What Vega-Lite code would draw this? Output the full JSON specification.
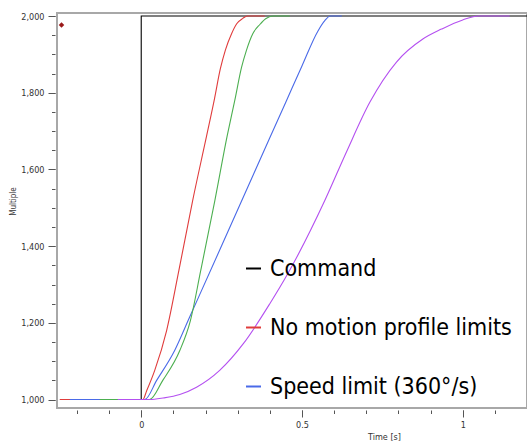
{
  "$schema": "https://vega.github.io/schema/vega-lite/v6.json",
  "autosize": "none",
  "padding": {"left": 57, "top": 13, "right": 0, "bottom": 35},
  "width": 470,
  "height": 395,
  "background": "white",
  "config": {
    "view": {"stroke": "#a8a8a8", "strokeWidth": 2},
    "font": "DejaVu Sans Condensed"
  },
  "datasets": {
    "curves": [
      {"s": "Command", "t": -0.253, "v": 1000},
      {"s": "Command", "t": 0, "v": 1000},
      {"s": "Command", "t": 0, "v": 2000},
      {"s": "Command", "t": 1.2, "v": 2000},
      {"s": "No motion profile limits", "t": -0.253, "v": 1000},
      {"s": "No motion profile limits", "t": 0.005, "v": 1000},
      {"s": "No motion profile limits", "t": 0.017, "v": 1023},
      {"s": "No motion profile limits", "t": 0.042, "v": 1076},
      {"s": "No motion profile limits", "t": 0.079, "v": 1180},
      {"s": "No motion profile limits", "t": 0.117, "v": 1336},
      {"s": "No motion profile limits", "t": 0.16, "v": 1519},
      {"s": "No motion profile limits", "t": 0.204, "v": 1690},
      {"s": "No motion profile limits", "t": 0.228, "v": 1785},
      {"s": "No motion profile limits", "t": 0.246, "v": 1862},
      {"s": "No motion profile limits", "t": 0.262, "v": 1912},
      {"s": "No motion profile limits", "t": 0.281, "v": 1954},
      {"s": "No motion profile limits", "t": 0.297, "v": 1980},
      {"s": "No motion profile limits", "t": 0.316, "v": 1994},
      {"s": "No motion profile limits", "t": 0.33, "v": 2000},
      {"s": "No motion profile limits", "t": 0.384, "v": 2000},
      {"s": "Speed limit (360°/s)", "t": -0.222, "v": 1000},
      {"s": "Speed limit (360°/s)", "t": 0.011, "v": 1000},
      {"s": "Speed limit (360°/s)", "t": 0.048, "v": 1050},
      {"s": "Speed limit (360°/s)", "t": 0.104, "v": 1128},
      {"s": "Speed limit (360°/s)", "t": 0.15, "v": 1214},
      {"s": "Speed limit (360°/s)", "t": 0.25, "v": 1401},
      {"s": "Speed limit (360°/s)", "t": 0.35, "v": 1589},
      {"s": "Speed limit (360°/s)", "t": 0.45, "v": 1776},
      {"s": "Speed limit (360°/s)", "t": 0.5, "v": 1870},
      {"s": "Speed limit (360°/s)", "t": 0.549, "v": 1960},
      {"s": "Speed limit (360°/s)", "t": 0.571, "v": 1988},
      {"s": "Speed limit (360°/s)", "t": 0.588, "v": 2000},
      {"s": "Speed limit (360°/s)", "t": 0.624, "v": 2000},
      {"s": "Acceleration limit", "t": -0.129, "v": 1000},
      {"s": "Acceleration limit", "t": 0.026, "v": 1000},
      {"s": "Acceleration limit", "t": 0.067, "v": 1050},
      {"s": "Acceleration limit", "t": 0.12, "v": 1128},
      {"s": "Acceleration limit", "t": 0.153, "v": 1206},
      {"s": "Acceleration limit", "t": 0.185, "v": 1336},
      {"s": "Acceleration limit", "t": 0.229, "v": 1519},
      {"s": "Acceleration limit", "t": 0.268, "v": 1690},
      {"s": "Acceleration limit", "t": 0.291, "v": 1780},
      {"s": "Acceleration limit", "t": 0.312, "v": 1866},
      {"s": "Acceleration limit", "t": 0.327, "v": 1910},
      {"s": "Acceleration limit", "t": 0.347, "v": 1954},
      {"s": "Acceleration limit", "t": 0.369, "v": 1978},
      {"s": "Acceleration limit", "t": 0.387, "v": 1993},
      {"s": "Acceleration limit", "t": 0.41, "v": 2000},
      {"s": "Acceleration limit", "t": 0.462, "v": 2000},
      {"s": "Speed and acceleration limit", "t": -0.073, "v": 1000},
      {"s": "Speed and acceleration limit", "t": 0.026, "v": 1000},
      {"s": "Speed and acceleration limit", "t": 0.068, "v": 1004},
      {"s": "Speed and acceleration limit", "t": 0.12, "v": 1013},
      {"s": "Speed and acceleration limit", "t": 0.172, "v": 1032},
      {"s": "Speed and acceleration limit", "t": 0.244, "v": 1076},
      {"s": "Speed and acceleration limit", "t": 0.317, "v": 1145},
      {"s": "Speed and acceleration limit", "t": 0.4, "v": 1250},
      {"s": "Speed and acceleration limit", "t": 0.457, "v": 1330},
      {"s": "Speed and acceleration limit", "t": 0.571, "v": 1519},
      {"s": "Speed and acceleration limit", "t": 0.638, "v": 1645},
      {"s": "Speed and acceleration limit", "t": 0.711, "v": 1775},
      {"s": "Speed and acceleration limit", "t": 0.794, "v": 1880},
      {"s": "Speed and acceleration limit", "t": 0.876, "v": 1940},
      {"s": "Speed and acceleration limit", "t": 0.934, "v": 1966},
      {"s": "Speed and acceleration limit", "t": 1.0, "v": 1990},
      {"s": "Speed and acceleration limit", "t": 1.05, "v": 2000},
      {"s": "Speed and acceleration limit", "t": 1.146, "v": 2000}
    ],
    "marker": [
      {"t": -0.248, "v": 1977}
    ]
  },
  "layer": [
    {
      "data": {"name": "curves"},
      "mark": {"type": "line", "strokeWidth": 1.1, "interpolate": "monotone"},
      "encoding": {
        "x": {
          "field": "t", "type": "quantitative",
          "scale": {"domain": [-0.262, 1.2], "nice": false, "zero": false},
          "axis": {
            "orient": "bottom", "values": [-0.2, -0.1, 0, 0.1, 0.2, 0.3, 0.4, 0.5, 0.6, 0.7, 0.8, 0.9, 1.0, 1.1],
            "labels": false, "title": null, "domain": false, "grid": false,
            "offset": 2, "tickSize": 3.5, "tickColor": "#555555", "tickWidth": 1
          }
        },
        "y": {
          "field": "v", "type": "quantitative",
          "scale": {"domain": [978, 2008], "nice": false, "zero": false},
          "axis": {
            "orient": "left", "values": [1000, 1050, 1100, 1150, 1200, 1250, 1300, 1350, 1400, 1450, 1500, 1550, 1600, 1650, 1700, 1750, 1800, 1850, 1900, 1950, 2000],
            "labels": false, "title": null, "domain": false, "grid": false,
            "offset": 2, "tickSize": 3.5, "tickColor": "#555555", "tickWidth": 1
          }
        },
        "color": {
          "field": "s", "type": "nominal",
          "scale": {
            "domain": ["Command", "No motion profile limits", "Speed limit (360°/s)", "Acceleration limit", "Speed and acceleration limit"],
            "range": ["#000000", "#e03c3c", "#4a6ae8", "#4caf50", "#b450f0"]
          },
          "legend": {
            "values": ["Command", "No motion profile limits", "Speed limit (360°/s)"],
            "orient": "none", "legendX": 185, "legendY": 244,
            "title": null, "padding": 0,
            "symbolType": "stroke", "symbolSize": 225, "symbolStrokeWidth": 2,
            "labelFont": "DejaVu Sans Condensed", "labelFontSize": 23, "labelColor": "#000000",
            "labelOffset": 5, "rowPadding": 35, "labelLimit": 400
          }
        }
      }
    },
    {
      "data": {"name": "marker"},
      "mark": {"type": "point", "shape": "diamond", "filled": true, "size": 30, "color": "#9a1a1a", "opacity": 1},
      "encoding": {
        "x": {
          "field": "t", "type": "quantitative",
          "scale": {"domain": [-0.262, 1.2], "nice": false, "zero": false},
          "axis": {
            "orient": "bottom", "values": [0, 0.5, 1],
            "format": "~g", "labelFont": "DejaVu Sans Condensed", "labelFontSize": 9, "labelColor": "#333333",
            "labelPadding": 3, "domain": false, "grid": false,
            "offset": 2, "tickSize": 7, "tickColor": "#555555", "tickWidth": 1,
            "title": "Time [s]", "titleFont": "DejaVu Sans Condensed", "titleFontSize": 9, "titleFontWeight": "normal",
            "titleColor": "#333333", "titleX": 327, "titleY": 29, "titleAlign": "center", "titleBaseline": "alphabetic"
          }
        },
        "y": {
          "field": "v", "type": "quantitative",
          "scale": {"domain": [978, 2008], "nice": false, "zero": false},
          "axis": {
            "orient": "left", "values": [1000, 1200, 1400, 1600, 1800, 2000],
            "format": ",.0f", "labelFont": "DejaVu Sans Condensed", "labelFontSize": 9, "labelColor": "#333333",
            "labelPadding": 4, "domain": false, "grid": false,
            "offset": 2, "tickSize": 7, "tickColor": "#555555", "tickWidth": 1,
            "title": "Multiple", "titleFont": "DejaVu Sans Condensed", "titleFontSize": 8, "titleFontWeight": "normal",
            "titleColor": "#333333", "titleX": -42, "titleY": 188, "titleAlign": "center", "titleBaseline": "middle", "titleAngle": -90
          }
        }
      }
    }
  ],
  "resolve": {"axis": {"x": "independent", "y": "independent"}}
}
